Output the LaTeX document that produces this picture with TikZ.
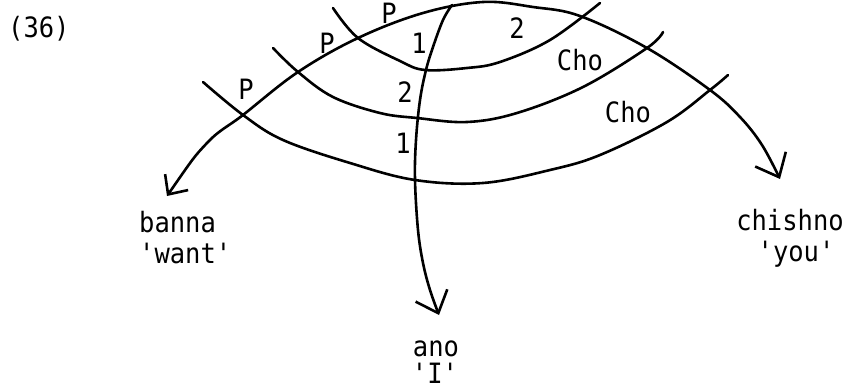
\documentclass[tikz,border=0pt]{standalone}
\usepackage{fontspec}
\setmonofont{DejaVu Sans Mono}[FakeStretch=0.91]
\usetikzlibrary{arrows.meta}
\tikzset{
  stroke/.style={line width=2.6pt, line cap=round, line join=round},
  lbl/.style={font=\ttfamily\fontsize{28}{31}\selectfont, inner sep=0pt},
  bigbarb/.style={-{Straight Barb[length=19pt,width=34pt]}},
}
\begin{document}
\begin{tikzpicture}[x=1pt,y=-1pt]
\useasboundingbox (0,0) rectangle (848,390);
% arrow tips
\coordinate (bannatip) at (167,196);
\coordinate (anotip) at (439,315);
\coordinate (chishnotip) at (780,179);
% main arc: banna <-> chishno
\draw[stroke, {Straight Barb[length=15pt,width=28pt]}-{Straight Barb[length=20pt,width=34pt]}]
  plot[smooth, tension=0.6] coordinates {(bannatip) (207,143) (243,115) (298,72) (358,38) (423,13) (483,2) (533,7) (580,16) (647,48) (710,90) (740,117) (762,145) (chishnotip)};
% crossing arcs
\draw[stroke] plot[smooth, tension=0.6] coordinates {(333,8) (358,38) (400,61) (425,70) (467,68) (500,62) (550,40) (600,3)};
\draw[stroke] plot[smooth, tension=0.6] coordinates {(273,48) (298,72) (333,97) (380,113) (417,118) (467,122) (517,113) (583,87) (647,48) (663,32)};
\draw[stroke] plot[smooth, tension=0.6] coordinates {(203,82) (243,115) (283,140) (350,163) (415,180) (483,183) (550,170) (600,155) (667,122) (710,90) (728,75)};
% vertical line to ano
\draw[stroke, bigbarb] plot[smooth, tension=0.6] coordinates {(452,5) (443,20) (433,47) (426,70) (420,100) (416,140) (415,180) (418,230) (423,263) (430,290) (anotip)};
% labels
\node[lbl, anchor=base west] (num) at (8,38) {(36)};
\node[lbl] (p1) at (389,13) {P};
\node[lbl] (p2) at (327,43) {P};
\node[lbl] (p3) at (246,89) {P};
\node[lbl] (n1a) at (419,43) {1};
\node[lbl] (n2a) at (405,92) {2};
\node[lbl] (n1b) at (403,143) {1};
\node[lbl] (n2b) at (517,28) {2};
\node[lbl] (cho1) at (580,60) {Cho};
\node[lbl] (cho2) at (628,112) {Cho};
\node[lbl, anchor=base west] (banna) at (139,232) {banna};
\node[lbl, anchor=base west] (want) at (139,263) {'want'};
\node[lbl, anchor=base] (ano) at (436,356) {ano};
\node[lbl, anchor=base] (ipron) at (435,383) {'I'};
\node[lbl, anchor=base] (chishno) at (790,230) {chishno};
\node[lbl, anchor=base] (you) at (796,261) {'you'};
\end{tikzpicture}
\end{document}
